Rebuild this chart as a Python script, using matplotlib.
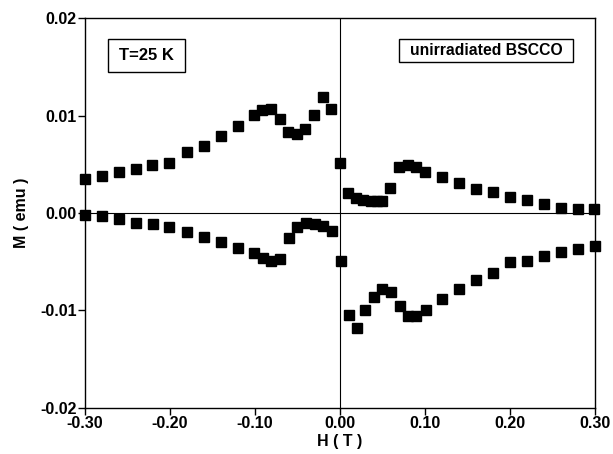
import matplotlib
matplotlib.use("Agg")
import matplotlib.pyplot as plt
from matplotlib.patches import Rectangle

plt.rcParams['font.family'] = ['Liberation Sans', 'DejaVu Sans']
plt.rcParams['font.weight'] = 'bold'
plt.rcParams['axes.unicode_minus'] = False

# upper branch (field sweeping down), left then right half
h_up = [-0.300, -0.280, -0.260, -0.240, -0.221, -0.201, -0.180, -0.160, -0.140, -0.120,
        -0.101, -0.092, -0.081, -0.071, -0.061, -0.051, -0.041, -0.031, -0.020, -0.011,
        0.000, 0.010, 0.019, 0.027, 0.036, 0.043, 0.050, 0.059, 0.069, 0.080, 0.089,
        0.100, 0.120, 0.140, 0.160, 0.180, 0.200, 0.220, 0.240, 0.260, 0.280, 0.299]
m_up = [0.0035, 0.00384, 0.00419, 0.00452, 0.00497, 0.00517, 0.00624, 0.00692, 0.00792, 0.00898,
        0.0101, 0.0106, 0.01066, 0.00963, 0.0083, 0.00812, 0.00864, 0.0101, 0.0119, 0.0107,
        0.00517, 0.00209, 0.00151, 0.00134, 0.00127, 0.00127, 0.00127, 0.0026, 0.00476, 0.00494, 0.0047,
        0.00425, 0.00367, 0.00305, 0.0025, 0.00213, 0.00161, 0.00134, 0.00093, 0.00055, 0.00044, 0.00038]

# lower branch
h_dn = [-0.300, -0.280, -0.260, -0.240, -0.220, -0.201, -0.180, -0.160, -0.140, -0.120,
        -0.101, -0.091, -0.081, -0.071, -0.060, -0.051, -0.040, -0.030, -0.020, -0.010,
        0.001, 0.011, 0.020, 0.030, 0.040, 0.050, 0.060, 0.071, 0.080, 0.090, 0.101,
        0.120, 0.140, 0.160, 0.180, 0.200, 0.220, 0.240, 0.260, 0.280, 0.300]
m_dn = [-0.0002, -0.00028, -0.00065, -0.001, -0.00116, -0.00147, -0.00192, -0.00243, -0.00295, -0.00363,
        -0.00415, -0.0046, -0.0049, -0.00473, -0.00254, -0.00141, -0.00106, -0.00116, -0.00134, -0.00182,
        -0.0049, -0.01049, -0.01186, -0.0100, -0.0086, -0.00785, -0.00812, -0.00956, -0.01062, -0.01056, -0.00997,
        -0.00887, -0.00785, -0.00686, -0.00614, -0.00507, -0.00497, -0.00442, -0.00404, -0.00373, -0.00336]

x_ticks = [-0.30, -0.20, -0.10, 0.00, 0.10, 0.20, 0.30]
y_ticks = [-0.02, -0.01, 0.00, 0.01, 0.02]

fig = plt.figure(figsize=(6.13, 4.54), dpi=100)
ax = fig.add_axes([0.1387, 0.1024, 0.8319, 0.8569])

ax.axhline(0, color='black', lw=0.8, zorder=1)
ax.axvline(0, color='black', lw=0.8, zorder=1)

ax.plot(h_up, m_up, 's', color='black', ms=7.2, clip_on=False, zorder=3)
ax.plot(h_dn, m_dn, 's', color='black', ms=7.2, clip_on=False, zorder=3)

ax.set_xlim(-0.30, 0.30)
ax.set_ylim(-0.02, 0.02)
ax.set_xticks(x_ticks)
ax.set_yticks(y_ticks)
ax.set_xticklabels(['%.2f' % v for v in x_ticks])
ax.set_yticklabels(['%.2f' % v for v in y_ticks])
ax.tick_params(direction='out', length=5, width=1, labelsize=11.5, pad=1)
for s in ax.spines.values():
    s.set_linewidth(1)

ax.set_xlabel('H ( T )', fontsize=11.5, fontweight='bold', labelpad=2)
ax.set_ylabel('M ( emu )', fontsize=11.5, fontweight='bold', labelpad=8)

# annotation boxes
ax.add_patch(Rectangle((0.045, 0.862), 0.151, 0.085, transform=ax.transAxes,
                       fill=False, edgecolor='black', lw=1))
ax.text(0.1205, 0.9045, 'T=25 K', transform=ax.transAxes, ha='center', va='center',
        fontsize=12, fontweight='bold')
ax.add_patch(Rectangle((0.616, 0.888), 0.341, 0.059, transform=ax.transAxes,
                       fill=False, edgecolor='black', lw=1))
ax.text(0.7865, 0.9175, 'unirradiated BSCCO', transform=ax.transAxes, ha='center', va='center',
        fontsize=11.3, fontweight='bold')

fig.savefig('out.png', dpi=100)
